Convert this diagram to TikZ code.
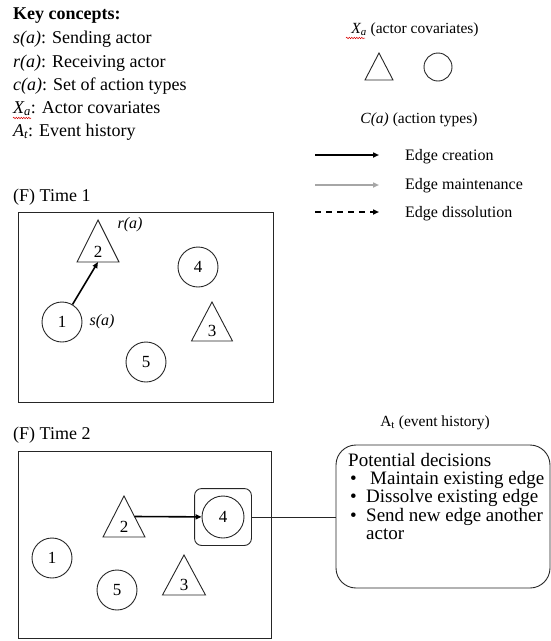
\documentclass[tikz,border=0pt]{standalone}
\usepackage{fontspec}
\setmainfont{Liberation Serif}
\usetikzlibrary{arrows.meta,decorations.pathmorphing,fit}

% triangle actor: name, apex x, apex y, half base, height, label
\newcommand\actortri[6]{%
  \draw[shp] (#2,#3) -- (#2-#4,#3+#5) -- (#2+#4,#3+#5) -- cycle;
  \coordinate (#1-base) at (#2,#3+#5);
  \coordinate (#1-right) at (#2+#4/2,#3+#5/2);
  \node[num] (#1) at (#2,#3+#5-10) {#6};
}

\begin{document}
\begin{tikzpicture}[x=1pt,y=-1pt,
  shp/.style={draw=black!85, line width=0.9pt},
  actor/.style={shp, circle, minimum size=40pt, inner sep=0pt, font=\fontsize{17}{17}\selectfont},
  num/.style={inner sep=0pt, font=\fontsize{17}{17}\selectfont},
  key/.style={anchor=base west, inner sep=0pt, font=\fontsize{18}{18}\selectfont},
  leg/.style={anchor=base west, inner sep=0pt, font=\fontsize{16}{16}\selectfont},
  head/.style={inner sep=0pt, font=\fontsize{15.5}{15.5}\selectfont},
  lab/.style={inner sep=0pt, font=\fontsize{16}{16}\selectfont\itshape},
  dtext/.style={anchor=base west, inner sep=0pt, font=\fontsize{19}{19}\selectfont},
  tie/.style={line width=1.6pt, -{Triangle[length=6pt,width=5pt]}},
  keep/.style={line width=1.6pt, draw=black!35, -{Triangle[length=6pt,width=5pt]}},
  drop/.style={line width=1.6pt, dash pattern=on 6pt off 5pt, -{Triangle[length=6pt,width=5pt]}},
  squiggle/.style={red!85!black, line width=0.5pt, decorate,
    decoration={snake, amplitude=0.7pt, segment length=2.5pt}}
]
\useasboundingbox (0,0) rectangle (551,641);

% ---- key concepts ----
\node[key] (k0) at (13,19) {\textbf{Key concepts:}};
\node[key] (k1) at (13,43) {\textit{s(a)}: Sending actor};
\node[key] (k2) at (13,67) {\textit{r(a)}: Receiving actor};
\node[key] (k3) at (13,90) {\textit{c(a)}: Set of action types};
\node[key] (k4) at (13,113) {\textit{X\textsubscript{a}}: Actor covariates};
\node[key] (k5) at (13,136) {\textit{A\textsubscript{t}}: Event history};
\draw[squiggle] (13,118) -- (31,118);

% ---- legend ----
\node[head] (hx) at (415,30) {\textit{X\textsubscript{a}} (actor covariates)};
\draw[squiggle] (346,38) -- (365,38);
\draw[shp] (379,53) -- (365,80) -- (393,80) -- cycle;
\node[shp, circle, minimum size=28pt, inner sep=0pt] (lc) at (438,67) {};
\node[head] (hc) at (419,120) {\textit{C(a)} (action types)};

\coordinate (e1a) at (315,155); \coordinate (e1b) at (379,155);
\coordinate (e2a) at (315,185); \coordinate (e2b) at (379,185);
\coordinate (e3a) at (315,212); \coordinate (e3b) at (379,212);
\draw[tie] (e1a) -- (e1b);
\draw[keep] (e2a) -- (e2b);
\draw[drop] (e3a) -- (e3b);
\node[leg] (l1) at (405,160) {Edge creation};
\node[leg] (l2) at (405,189) {Edge maintenance};
\node[leg] (l3) at (405,217) {Edge dissolution};

% ---- time 1 ----
\node[key] (t1) at (13,201) {(F) Time 1};
\draw[shp] (18,212) rectangle (273,402);
\actortri{a2}{98}{220}{21}{42}{2}
\actortri{a3}{212}{302}{20.5}{39}{3}
\node[actor] (a4) at (198,267) {4};
\node[actor] (a1) at (62,322) {1};
\node[actor] (a5) at (146,362) {5};
\draw[tie] (a1) -- (a2-base);
\node[lab] (ra) at (130,225) {r(a)};
\node[lab] (sa) at (102,322) {s(a)};

% ---- time 2 ----
\node[key] (t2) at (13,439) {(F) Time 2};
\draw[shp] (18,451) rectangle (271,638);
\actortri{b2}{124}{496}{21}{41}{2}
\actortri{b3}{184}{555}{21.5}{40}{3}
\node[actor, minimum size=42pt] (b4) at (223,517) {4};
\node[shp, rounded corners=7pt, fit=(b4), inner sep=7pt] (pick) {};
\node[actor] (b1) at (52,558) {1};
\node[actor] (b5) at (117,590) {5};
\draw[tie] (b2-right) -- (b4);

% ---- decisions ----
\node[head] (ha) at (435,423) {A\textsubscript{t} (event history)};
\node[shp, rounded corners=20pt, minimum width=214pt, minimum height=143pt] (dec) at (443,516.5) {};
\draw[shp, line width=0.7pt] (pick.east) -- (pick.east -| dec.west);
\node[dtext] (d0) at (348,466) {Potential decisions};
\node[dtext] (d1) at (350,484) {\makebox[16pt][l]{•}\hspace{4pt}Maintain existing edge};
\node[dtext] (d2) at (350,502.5) {\makebox[16pt][l]{•}Dissolve existing edge};
\node[dtext] (d3) at (350,521) {\makebox[16pt][l]{•}Send new edge another};
\node[dtext] (d4) at (366,539) {actor};
\end{tikzpicture}
\end{document}
